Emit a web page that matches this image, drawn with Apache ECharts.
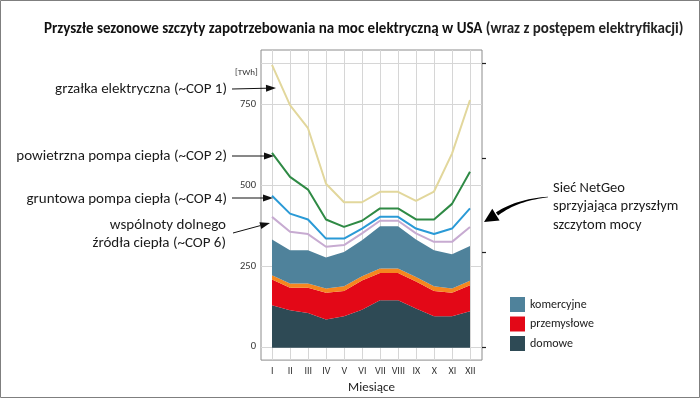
<!DOCTYPE html>
<html>
<head>
<meta charset="utf-8">
<script src="https://cdn.jsdelivr.net/npm/echarts@6/dist/echarts.min.js"></script>
<style>
  html, body { margin: 0; padding: 0; background: #fff; }
  #chart { width: 700px; height: 399px; }
</style>
</head>
<body>
<div id="chart"></div>
<script>
const FONT = 'Carlito, Calibri, Lato, sans-serif'

// months on the x axis
const MONTHS = ['I', 'II', 'III', 'IV', 'V', 'VI', 'VII', 'VIII', 'IX', 'X', 'XI', 'XII']

// stacked layers [TWh]
const domowe = [131, 115, 107, 87, 97, 117, 146, 146, 121, 97, 97, 112]
const przemyslowe = [79, 70, 78, 82, 78, 90, 84, 84, 83, 78, 72, 80]
const pasekPomaranczowy = [13, 13, 13, 13, 14, 13, 14, 14, 14, 14, 13, 14]
const komercyjne = [110, 102, 102, 96, 106, 111, 130, 130, 115, 111, 106, 107]

// peak demand scenarios [TWh]
const grzalka = [871, 747, 676, 505, 448, 448, 480, 480, 452, 481, 598, 763]
const powietrzna = [600, 526, 487, 395, 372, 391, 429, 429, 395, 395, 443, 542]
const gruntowa = [468, 413, 395, 336, 336, 367, 403, 403, 367, 350, 367, 429]
const wspolnoty = [403, 357, 350, 311, 316, 352, 391, 391, 352, 326, 326, 372]

// axis ticks
const Y_LABELS = [0, 250, 500, 750]
const Y_GRID = [0, 250, 500, 750, 875]
const RIGHT_TICKS = [0, 1, 2, 3]

const Y_MIN = -41
const Y_MAX = 917

function areaSeries(name, data, color) {
  return {
    name,
    type: 'line',
    stack: 'popyt',
    xAxisIndex: 1,
    yAxisIndex: 2,
    data,
    symbol: 'none',
    lineStyle: { width: 0 },
    itemStyle: { color },
    areaStyle: { color, opacity: 1 },
    z: 2,
    silent: true
  }
}

function lineSeries(name, data, color) {
  return {
    name,
    type: 'line',
    xAxisIndex: 1,
    yAxisIndex: 2,
    data,
    symbol: 'none',
    lineStyle: { color, width: 2 },
    itemStyle: { color },
    z: 3,
    silent: true
  }
}

// straight annotation arrow with a filled head
function arrow(x1, y1, x2, y2) {
  const dx = x2 - x1, dy = y2 - y1
  const len = Math.sqrt(dx * dx + dy * dy)
  const ux = dx / len, uy = dy / len
  const hl = 10, hw = 3.5
  const bx = x2 - ux * hl, by = y2 - uy * hl
  return [
    { type: 'line', shape: { x1, y1, x2: bx, y2: by }, style: { stroke: '#111', lineWidth: 1 }, z: 10 },
    {
      type: 'polygon',
      shape: { points: [[x2, y2], [bx - uy * hw, by + ux * hw], [bx + uy * hw, by - ux * hw]] },
      style: { fill: '#111' },
      z: 10
    }
  ]
}

// thick tapered curved arrow (NetGeo note)
function curvedArrow() {
  const p0 = [548, 197], p1 = [525, 199], p2 = [508, 206], p3 = [497, 214]
  const bez = (t, i) => {
    const m = 1 - t
    return m * m * m * p0[i] + 3 * m * m * t * p1[i] + 3 * m * t * t * p2[i] + t * t * t * p3[i]
  }
  const left = [], right = []
  const N = 20
  for (let k = 0; k <= N; k++) {
    const t = k / N
    const x = bez(t, 0), y = bez(t, 1)
    const t2 = Math.min(1, t + 0.01), t1 = Math.max(0, t - 0.01)
    let dx = bez(t2, 0) - bez(t1, 0), dy = bez(t2, 1) - bez(t1, 1)
    const l = Math.sqrt(dx * dx + dy * dy)
    dx /= l; dy /= l
    const w = 0.3 + 1.6 * t
    left.push([x - dy * w, y + dx * w])
    right.unshift([x + dy * w, y - dx * w])
  }
  const tip = [484, 222]
  const dx = tip[0] - p3[0], dy = tip[1] - p3[1]
  const l = Math.sqrt(dx * dx + dy * dy)
  const ux = dx / l, uy = dy / l
  const bx = tip[0] - ux * 14, by = tip[1] - uy * 14
  return [
    { type: 'polygon', shape: { points: left.concat(right) }, style: { fill: '#000' }, z: 10 },
    {
      type: 'polygon',
      shape: { points: [tip, [bx - uy * 7, by + ux * 7], [bx + uy * 7, by - ux * 7]] },
      style: { fill: '#000' },
      z: 10
    }
  ]
}

function label(text, x, y, align, size) {
  return {
    type: 'text',
    x, y,
    style: {
      text,
      font: `${size || 15}px ${FONT}`,
      fill: '#1a1a1a',
      align: align || 'right',
      verticalAlign: 'middle'
    },
    z: 10
  }
}

const chart = echarts.init(document.getElementById('chart'))

chart.setOption({
  animation: false,
  title: {
    text: '{b|Przyszłe sezonowe szczyty zapotrzebowania na moc elektryczną w USA}{n| (wraz z postępem elektryfikacji)}',
    left: 44,
    top: 22,
    padding: 0,
    textStyle: {
      rich: {
        b: { fontFamily: FONT, fontSize: 15, fontWeight: 'bold', color: '#111' },
        n: { fontFamily: FONT, fontSize: 15, color: '#222' }
      }
    }
  },
  legend: {
    data: ['komercyjne', 'przemysłowe', 'domowe'],
    orient: 'vertical',
    left: 505,
    top: 292,
    icon: 'rect',
    itemWidth: 15,
    itemHeight: 15,
    itemGap: 4.5,
    textStyle: { fontFamily: FONT, fontSize: 12, color: '#1a1a1a' },
    selectedMode: false
  },
  grid: [
    // frame, gridlines and labels
    { left: 261, right: 218, top: 50, bottom: 38, show: true, borderColor: '#8c8c8c', borderWidth: 1 },
    // data area: first and last month on the grid edges
    { left: 272, right: 230, top: 50, bottom: 38 }
  ],
  xAxis: [
    {
      type: 'value',
      gridIndex: 0,
      min: -0.63,
      max: 11.65,
      name: 'Miesiące',
      nameLocation: 'middle',
      nameGap: 19,
      nameTextStyle: { fontFamily: FONT, fontSize: 13, color: '#222' },
      axisLine: { show: false },
      axisTick: { show: false, customValues: MONTHS.map((m, i) => i) },
      axisLabel: {
        customValues: MONTHS.map((m, i) => i),
        formatter: v => MONTHS[Math.round(v)],
        fontFamily: FONT,
        fontSize: 10,
        color: '#333',
        margin: 6
      },
      splitLine: { show: true, lineStyle: { color: '#d6d6d6', width: 1 } }
    },
    {
      type: 'category',
      gridIndex: 1,
      data: MONTHS,
      boundaryGap: false,
      show: false
    }
  ],
  yAxis: [
    {
      type: 'value',
      gridIndex: 0,
      min: Y_MIN,
      max: Y_MAX,
      axisLine: { show: false },
      axisTick: { show: false, customValues: Y_GRID },
      axisLabel: {
        customValues: Y_LABELS,
        fontFamily: FONT,
        fontSize: 10.5,
        color: '#333',
        margin: 5
      },
      splitLine: { show: true, lineStyle: { color: '#d6d6d6', width: 1 } }
    },
    {
      type: 'value',
      gridIndex: 0,
      position: 'right',
      min: -0.137,
      max: 3.14,
      axisLine: { show: false },
      axisTick: {
        show: true,
        customValues: RIGHT_TICKS,
        length: 4,
        lineStyle: { color: '#222', width: 1.2 }
      },
      axisLabel: { show: false },
      splitLine: { show: false }
    },
    {
      type: 'value',
      gridIndex: 1,
      min: Y_MIN,
      max: Y_MAX,
      show: false,
      splitLine: { show: false }
    }
  ],
  series: [
    areaSeries('domowe', domowe, '#2e4a55'),
    areaSeries('przemysłowe', przemyslowe, '#e30817'),
    areaSeries('pomarańczowy', pasekPomaranczowy, '#f5861f'),
    areaSeries('komercyjne', komercyjne, '#4f829b'),
    lineSeries('wspólnoty dolnego źródła ciepła', wspolnoty, '#c7abd1'),
    lineSeries('gruntowa pompa ciepła', gruntowa, '#2a9ad6'),
    lineSeries('powietrzna pompa ciepła', powietrzna, '#2f8a45'),
    lineSeries('grzałka elektryczna', grzalka, '#e2d79c')
  ],
  graphic: [
    { type: 'rect', shape: { x: 0.5, y: 0.5, width: 699, height: 397 }, style: { fill: 'none', stroke: '#7f7f7f', lineWidth: 1 }, z: 20 },
    { type: 'text', x: 235, y: 73, style: { text: '[TWh]', font: `9px ${FONT}`, fill: '#333', verticalAlign: 'middle' }, z: 10 },
    label('grzałka elektryczna (~COP 1)', 227, 89),
    label('powietrzna pompa ciepła (~COP 2)', 227, 156),
    label('gruntowa pompa ciepła (~COP 4)', 227, 199),
    label('wspólnoty dolnego', 226, 225),
    label('źródła ciepła (~COP 6)', 226, 243),
    ...arrow(232, 89, 276, 88),
    ...arrow(232, 156, 274, 156),
    ...arrow(232, 198, 273, 198),
    ...arrow(233, 233, 270, 223),
    label('Sieć NetGeo', 553, 188, 'left', 14.5),
    label('sprzyjająca przyszłym', 553, 206.5, 'left', 14.5),
    label('szczytom mocy', 553, 225, 'left', 14.5),
    ...curvedArrow()
  ]
})
</script>
</body>
</html>
